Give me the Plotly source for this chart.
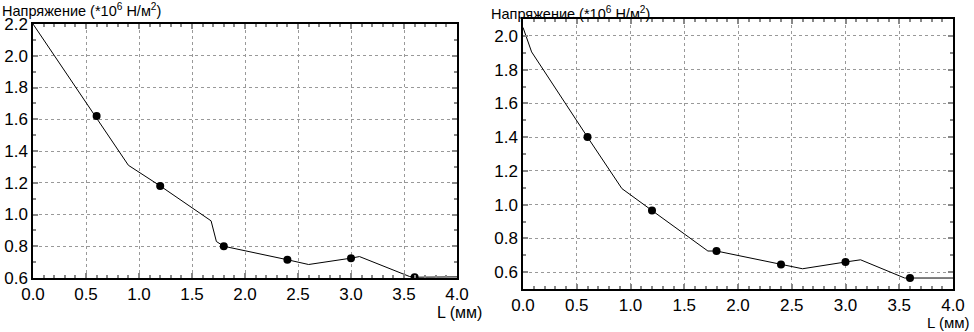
import plotly.graph_objects as go

# Left chart data
left_line_x = [0.0, 0.9, 1.2, 1.68, 1.73, 1.8, 2.4, 2.6, 3.0, 3.08, 3.55, 3.6, 4.0]
left_line_y = [2.2, 1.31, 1.18, 0.96, 0.83, 0.80, 0.715, 0.685, 0.725, 0.735, 0.61, 0.605, 0.607]
left_pts_x = [0.6, 1.2, 1.8, 2.4, 3.0, 3.6]
left_pts_y = [1.62, 1.18, 0.80, 0.715, 0.725, 0.605]

# Right chart data
right_line_x = [0.0, 0.08, 0.6, 0.92, 1.2, 1.72, 1.8, 2.4, 2.6, 3.0, 3.14, 3.55, 3.6, 4.0]
right_line_y = [2.05, 1.905, 1.40, 1.095, 0.965, 0.725, 0.725, 0.645, 0.62, 0.66, 0.673, 0.565, 0.565, 0.565]
right_pts_x = [0.6, 1.2, 1.8, 2.4, 3.0, 3.6]
right_pts_y = [1.40, 0.965, 0.725, 0.645, 0.66, 0.565]

x_ticks = [0.0, 0.5, 1.0, 1.5, 2.0, 2.5, 3.0, 3.5, 4.0]
y_title = "Напряжение (*10<sup>6</sup> Н/м<sup>2</sup>)"
x_title = "L (мм)"

W, H = 974, 332
FONT = "Liberation Sans, Arial, sans-serif"

fig = go.Figure()
fig.add_trace(go.Scatter(x=left_line_x, y=left_line_y, mode="lines",
                         line=dict(color="black", width=1), xaxis="x", yaxis="y", showlegend=False))
fig.add_trace(go.Scatter(x=left_pts_x, y=left_pts_y, mode="markers",
                         marker=dict(color="black", size=8), xaxis="x", yaxis="y", showlegend=False))
fig.add_trace(go.Scatter(x=right_line_x, y=right_line_y, mode="lines",
                         line=dict(color="black", width=1), xaxis="x2", yaxis="y2", showlegend=False))
fig.add_trace(go.Scatter(x=right_pts_x, y=right_pts_y, mode="markers",
                         marker=dict(color="black", size=8), xaxis="x2", yaxis="y2", showlegend=False))

def px(v):
    return v / W

def py(v):
    return (H - v) / H

common = dict(
    automargin=False,
    showline=True, linecolor="black", linewidth=1.5, mirror="ticks",
    ticks="inside", ticklen=5, tickcolor="#888", tickwidth=1.5,
    showgrid=True, gridcolor="#999", griddash="dot", gridwidth=1,
    zeroline=False, tickfont=dict(family=FONT, size=17, color="black"),
)
xcommon = dict(common, range=[0, 4], tickvals=x_ticks, ticktext=[f"{v:.1f}" for v in x_ticks],
               minor=dict(ticks="inside", dtick=0.1, ticklen=3, tickcolor="#888", showgrid=False))
ycommon = dict(common, tickformat=".1f", dtick=0.2,
               minor=dict(ticks="inside", dtick=0.1, ticklen=3, tickcolor="#888", showgrid=False))

fig.update_layout(
    width=W, height=H,
    margin=dict(l=0, r=0, t=0, b=0, autoexpand=False),
    paper_bgcolor="white", plot_bgcolor="white",
    font=dict(family=FONT, size=15, color="black"),
    xaxis=dict(xcommon, domain=[px(33), px(457)], anchor="y"),
    yaxis=dict(ycommon, domain=[py(278), py(24)], range=[0.6, 2.2], anchor="x", tick0=0.6),
    xaxis2=dict(xcommon, domain=[px(523), px(953)], anchor="y2"),
    yaxis2=dict(ycommon, domain=[py(289), py(19)], range=[0.5, 2.1], anchor="x2", tick0=0.6),
    annotations=[
        dict(text=y_title, x=0, y=py(9.5), xref="paper", yref="paper", xanchor="left", yanchor="middle",
             showarrow=False, font=dict(family=FONT, size=14.5)),
        dict(text=y_title, x=px(489), y=py(13), xref="paper", yref="paper", xanchor="left", yanchor="middle",
             showarrow=False, font=dict(family=FONT, size=14.5)),
        dict(text=x_title, x=px(435), y=py(312), xref="paper", yref="paper", xanchor="left", yanchor="middle",
             showarrow=False, font=dict(family=FONT, size=16)),
        dict(text=x_title, x=px(972), y=py(322), xref="paper", yref="paper", xanchor="right", yanchor="middle",
             showarrow=False, font=dict(family=FONT, size=15)),
    ],
)

fig.write_html("out.html", config={"displayModeBar": False},
               post_script="document.body.style.margin='0';")
